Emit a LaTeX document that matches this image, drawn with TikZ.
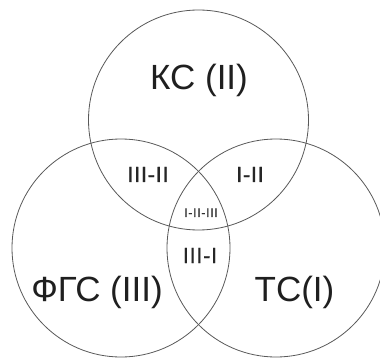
\documentclass[tikz,border=0pt]{standalone}
\usepackage{fontspec}
\setmainfont{Liberation Sans}
\begin{document}
\begin{tikzpicture}[x=1pt,y=-1pt,
  setcircle/.style={circle, draw=black!65, line width=0.8pt, minimum size=218pt, inner sep=0pt},
  bigtext/.style={anchor=base, inner sep=0pt, font=\fontsize{35}{40}\selectfont, text=black!88},
  midtext/.style={anchor=base, inner sep=0pt, font=\fontsize{22}{24}\selectfont\addfontfeature{LetterSpace=3,FakeBold=0.6}, text=black!85},
  smalltext/.style={anchor=base, inner sep=0pt, font=\fontsize{12.5}{14}\selectfont\addfontfeature{LetterSpace=5,FakeBold=0.6}, text=black!82}]
\useasboundingbox[fill=white] (0,0) rectangle (380,358);
\begin{scope}
\clip (0,0) rectangle (380,358);
\node[setcircle, minimum size=220pt] (ks) at (198.5,120) {};
\node[setcircle] (fgs) at (121,248) {};
\node[setcircle] (ts) at (276,248) {};
\end{scope}
\node[bigtext] (lks) at (199,90) {КС (II)};
\node[bigtext] (lfgs) at (97,301) {ФГС (III)};
\node[bigtext] (lts) at (294.5,301) {ТС(I)};
\node[midtext] (l32) at (148,182) {III-II};
\node[midtext] (l12) at (250,182) {I-II};
\node[smalltext] (l123) at (201,217) {I-II-III};
\node[midtext] (l31) at (200,263) {III-I};
\end{tikzpicture}
\end{document}
